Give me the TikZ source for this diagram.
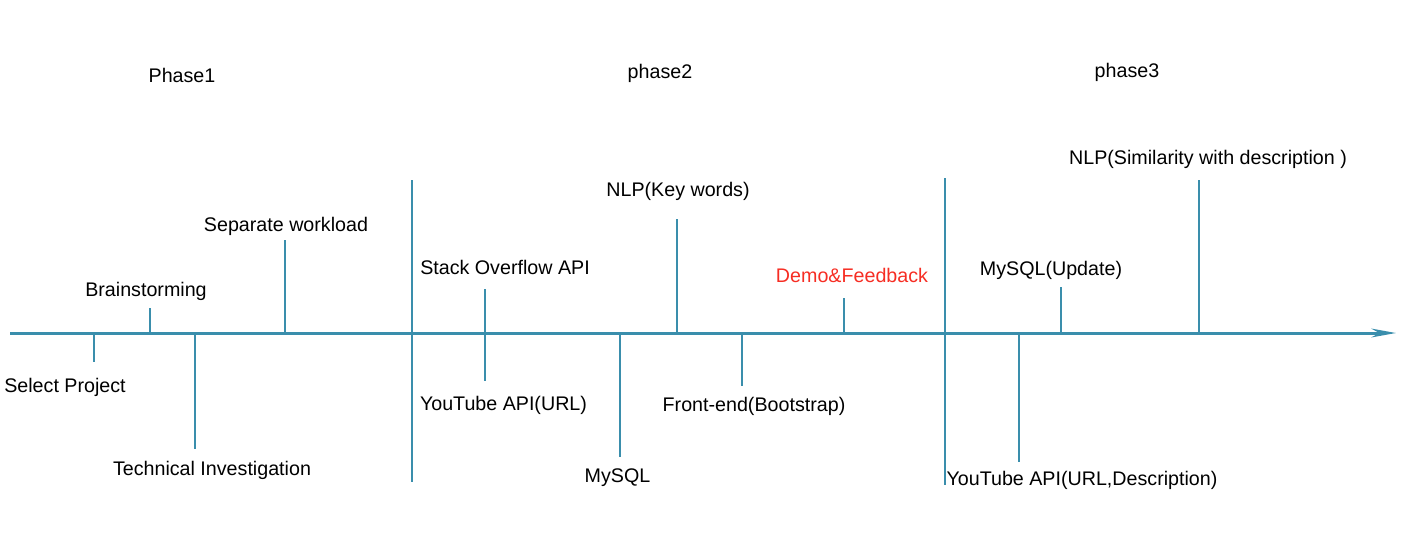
\documentclass[tikz,border=0pt]{standalone}
\usepackage{fontspec}
\setmainfont{Liberation Sans}
\usetikzlibrary{arrows.meta}
\definecolor{tlblue}{RGB}{58,142,172}
\definecolor{demored}{RGB}{246,45,35}
\tikzset{
  mstick/.style={tlblue, line width=1.1pt},
  lbl/.style={font=\fontsize{11.2}{13}\selectfont, inner sep=0pt, anchor=base},
}
\begin{document}
\begin{tikzpicture}[x=0.02cm, y=-0.02cm] % timeline
            \useasboundingbox (0,0) rectangle (1410,552);

            \coordinate (start) at (10,333);
            \coordinate (end) at (1396,333);
            \draw[tlblue, line width=1.7pt, -{Stealth[length=14pt,width=5pt]}] (start) -- (end);

            % phases
            \node[lbl] (phase1) at (182,82) {Phase1};
            \node[lbl] (phase2) at (660,78) {phase2};
            \node[lbl] (phase3) at (1127,77) {phase3};

            \coordinate (div1top) at (412,180);
            \coordinate (div1bot) at (412,482);
            \draw[mstick] (div1top) -- (div1bot);
            \coordinate (div2top) at (945,178);
            \coordinate (div2bot) at (945,485);
            \draw[mstick] (div2top) -- (div2bot);

            % phase 1
            \coordinate (selA) at (94,333);
            \coordinate (selB) at (94,362);
            \draw[mstick] (selA) -- (selB);
            \node[lbl] (select) at (65,392) {Select Project};

            \coordinate (brainA) at (150,333);
            \coordinate (brainB) at (150,308);
            \draw[mstick] (brainA) -- (brainB);
            \node[lbl] (brain) at (146,296) {Brainstorming};

            \coordinate (techA) at (195,333);
            \coordinate (techB) at (195,449);
            \draw[mstick] (techA) -- (techB);
            \node[lbl] (tech) at (212,475) {Technical Investigation};

            \coordinate (sepA) at (285,333);
            \coordinate (sepB) at (285,240);
            \draw[mstick] (sepA) -- (sepB);
            \node[lbl] (separate) at (286,231) {Separate workload};

            % phase 2
            \coordinate (apiUp) at (485,289);
            \coordinate (apiDown) at (485,381);
            \draw[mstick] (apiUp) -- (apiDown);
            \node[lbl] (stack) at (505,274) {Stack Overflow API};
            \node[lbl] (youtube) at (503.5,410) {YouTube API(URL)};

            \coordinate (sqlA) at (620,333);
            \coordinate (sqlB) at (620,457);
            \draw[mstick] (sqlA) -- (sqlB);
            \node[lbl] (mysql) at (617.5,482) {MySQL};

            \coordinate (nlpA) at (677,333);
            \coordinate (nlpB) at (677,219);
            \draw[mstick] (nlpA) -- (nlpB);
            \node[lbl] (nlp) at (678,196) {NLP(Key words)};

            \coordinate (frontA) at (742,333);
            \coordinate (frontB) at (742,386);
            \draw[mstick] (frontA) -- (frontB);
            \node[lbl] (front) at (754,411) {Front-end(Bootstrap)};

            \coordinate (demoA) at (844,333);
            \coordinate (demoB) at (844,298);
            \draw[mstick] (demoA) -- (demoB);
            \node[lbl, text=demored] (demo) at (852,282) {Demo\&Feedback};

            % phase 3
            \coordinate (yt2A) at (1019,333);
            \coordinate (yt2B) at (1019,462);
            \draw[mstick] (yt2A) -- (yt2B);
            \node[lbl] (youtube2) at (1082,485) {YouTube API(URL,Description)};

            \coordinate (updA) at (1061,333);
            \coordinate (updB) at (1061,287);
            \draw[mstick] (updA) -- (updB);
            \node[lbl] (update) at (1051,275) {MySQL(Update)};

            \coordinate (simA) at (1199,333);
            \coordinate (simB) at (1199,180);
            \draw[mstick] (simA) -- (simB);
            \node[lbl] (similarity) at (1208,164) {NLP(Similarity with description )};
        \end{tikzpicture}
\end{document}
